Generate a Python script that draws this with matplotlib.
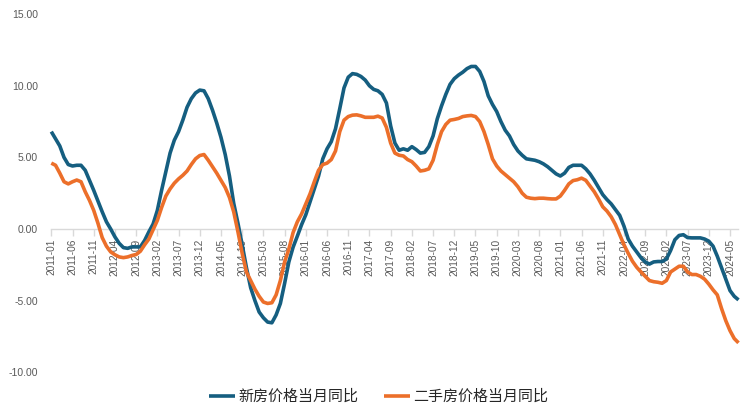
import matplotlib
matplotlib.use("Agg")
import matplotlib.pyplot as plt

plt.rcParams['axes.unicode_minus'] = False

# Monthly data 2011-01 .. 2024-07
months = [f"{2011 + k // 12}-{k % 12 + 1:02d}" for k in range(163)]

new_home = [
    6.8, 6.3, 5.8, 5.0, 4.5, 4.4, 4.45, 4.45, 4.1, 3.4,
    2.7, 1.95, 1.2, 0.5, 0.0, -0.55, -1.0, -1.3, -1.35, -1.25,
    -1.25, -1.25, -0.8, -0.2, 0.35, 1.3, 2.7, 4.0, 5.3, 6.2,
    6.8, 7.6, 8.5, 9.1, 9.5, 9.7, 9.65, 9.1, 8.3, 7.4,
    6.4, 5.2, 3.7, 1.8, 0.4, -1.1, -2.7, -4.1, -5.0, -5.8,
    -6.2, -6.5, -6.55, -6.0, -5.2, -3.8, -2.3, -1.27, -0.5, 0.3,
    1.0, 1.9, 2.8, 3.7, 4.9, 5.6, 6.1, 7.0, 8.4, 9.85,
    10.6, 10.85, 10.8, 10.65, 10.4, 10.0, 9.75, 9.65, 9.4, 8.8,
    7.2, 6.0, 5.5, 5.6, 5.5, 5.75, 5.55, 5.3, 5.35, 5.75,
    6.5, 7.7, 8.6, 9.4, 10.1, 10.5, 10.75, 10.95, 11.2, 11.35,
    11.35, 11.0, 10.3, 9.3, 8.7, 8.2, 7.5, 6.9, 6.5, 5.9,
    5.45, 5.15, 4.9, 4.85, 4.8, 4.7, 4.55, 4.35, 4.1, 3.85,
    3.7, 3.9, 4.3, 4.45, 4.45, 4.45, 4.2, 3.85, 3.4, 2.9,
    2.4, 2.05, 1.75, 1.35, 0.95, 0.2, -0.7, -1.2, -1.6, -2.0,
    -2.3, -2.45, -2.3, -2.27, -2.27, -2.1, -1.5, -0.75, -0.45, -0.4,
    -0.6, -0.62, -0.62, -0.62, -0.7, -0.85, -1.2, -1.9, -2.7, -3.5,
    -4.3, -4.7, -4.95,
]

second_hand = [
    4.6, 4.45, 3.9, 3.3, 3.15, 3.3, 3.42, 3.3, 2.6, 2.0,
    1.3, 0.4, -0.6, -1.2, -1.6, -1.8, -1.95, -2.0, -1.95, -1.85,
    -1.78, -1.55, -1.1, -0.7, -0.05, 0.6, 1.5, 2.3, 2.8, 3.2,
    3.5, 3.75, 4.05, 4.5, 4.9, 5.13, 5.2, 4.8, 4.35, 3.9,
    3.4, 2.9, 2.2, 1.2, -0.2, -1.7, -3.0, -3.6, -4.2, -4.7,
    -5.1, -5.2, -5.15, -4.6, -3.6, -2.3, -1.4, -0.25, 0.5, 1.05,
    1.75, 2.46, 3.3, 4.1, 4.5, 4.6, 4.85, 5.45, 6.8, 7.6,
    7.85, 7.95, 7.97, 7.9, 7.8, 7.8, 7.8, 7.88, 7.75, 7.1,
    6.0, 5.3, 5.15, 5.1, 4.85, 4.7, 4.4, 4.05, 4.1, 4.2,
    4.8, 5.9, 6.8, 7.3, 7.6, 7.65, 7.72, 7.85, 7.9, 7.93,
    7.85, 7.5, 6.8, 5.9, 4.9, 4.4, 4.05, 3.8, 3.55, 3.3,
    2.95, 2.5, 2.22, 2.15, 2.12, 2.15, 2.15, 2.12, 2.1, 2.1,
    2.3, 2.7, 3.15, 3.38, 3.44, 3.55, 3.4, 3.0, 2.6, 2.1,
    1.55, 1.25, 0.85, 0.3, -0.4, -1.1, -1.7, -2.25, -2.67, -3.0,
    -3.3, -3.6, -3.68, -3.72, -3.79, -3.6, -3.0, -2.8, -2.6, -2.6,
    -3.0, -3.18, -3.18, -3.3, -3.5, -3.85, -4.25, -4.6, -5.55, -6.4,
    -7.1, -7.65, -7.95,
]

series_names = ["新房价格当月同比", "二手房价格当月同比"]
y_ticks = [-10, -5, 0, 5, 10, 15]
y_labels = ["-10.00", "-5.00", "0.00", "5.00", "10.00", "15.00"]

BLUE = "#155E80"
ORANGE = "#EC6F2A"

fig = plt.figure(figsize=(7.53, 4.2), dpi=100)
ax = fig.add_axes([51.3 / 753, 1 - 372.2 / 420, (738.5 - 51.3) / 753, (372.2 - 14.2) / 420])

x = list(range(len(months)))
l1, = ax.plot(x, new_home, color=BLUE, lw=2.6, zorder=3, clip_on=False,
              solid_joinstyle='round', solid_capstyle='butt')
l2, = ax.plot(x, second_hand, color=ORANGE, lw=2.6, zorder=3, clip_on=False,
              solid_joinstyle='round', solid_capstyle='butt')

ax.set_xlim(0, len(months) - 1)
ax.set_ylim(-10, 15)

for s in ['top', 'right', 'left']:
    ax.spines[s].set_visible(False)
ax.spines['bottom'].set_position(('data', 0))
ax.spines['bottom'].set_color('#D9D9D9')
ax.spines['bottom'].set_linewidth(1.0)
ax.spines['bottom'].set_zorder(1)

tick_idx = list(range(0, len(months), 5))
ax.set_xticks(tick_idx)
ax.set_xticklabels([months[i] for i in tick_idx], rotation=90,
                   fontsize=7.3, color='#595959', family='Liberation Sans')
ax.tick_params(axis='x', direction='out', length=5, width=1.0, color='#D9D9D9', pad=2)

ax.set_yticks(y_ticks)
ax.set_yticklabels(y_labels, fontsize=7.5, color='#595959', family='Liberation Sans')
ax.tick_params(axis='y', length=0, pad=9.5)

fig.legend([l1, l2], series_names, loc='center', bbox_to_anchor=(0.503, 0.055),
           ncol=2, frameon=False, handlelength=1.7, handletextpad=0.25,
           columnspacing=1.7,
           prop={'family': ['Noto Sans CJK SC', 'DejaVu Sans'], 'size': 10.8})
for t in fig.legends[0].get_texts():
    t.set_color('#262626')

fig.savefig("out.png", dpi=100)
